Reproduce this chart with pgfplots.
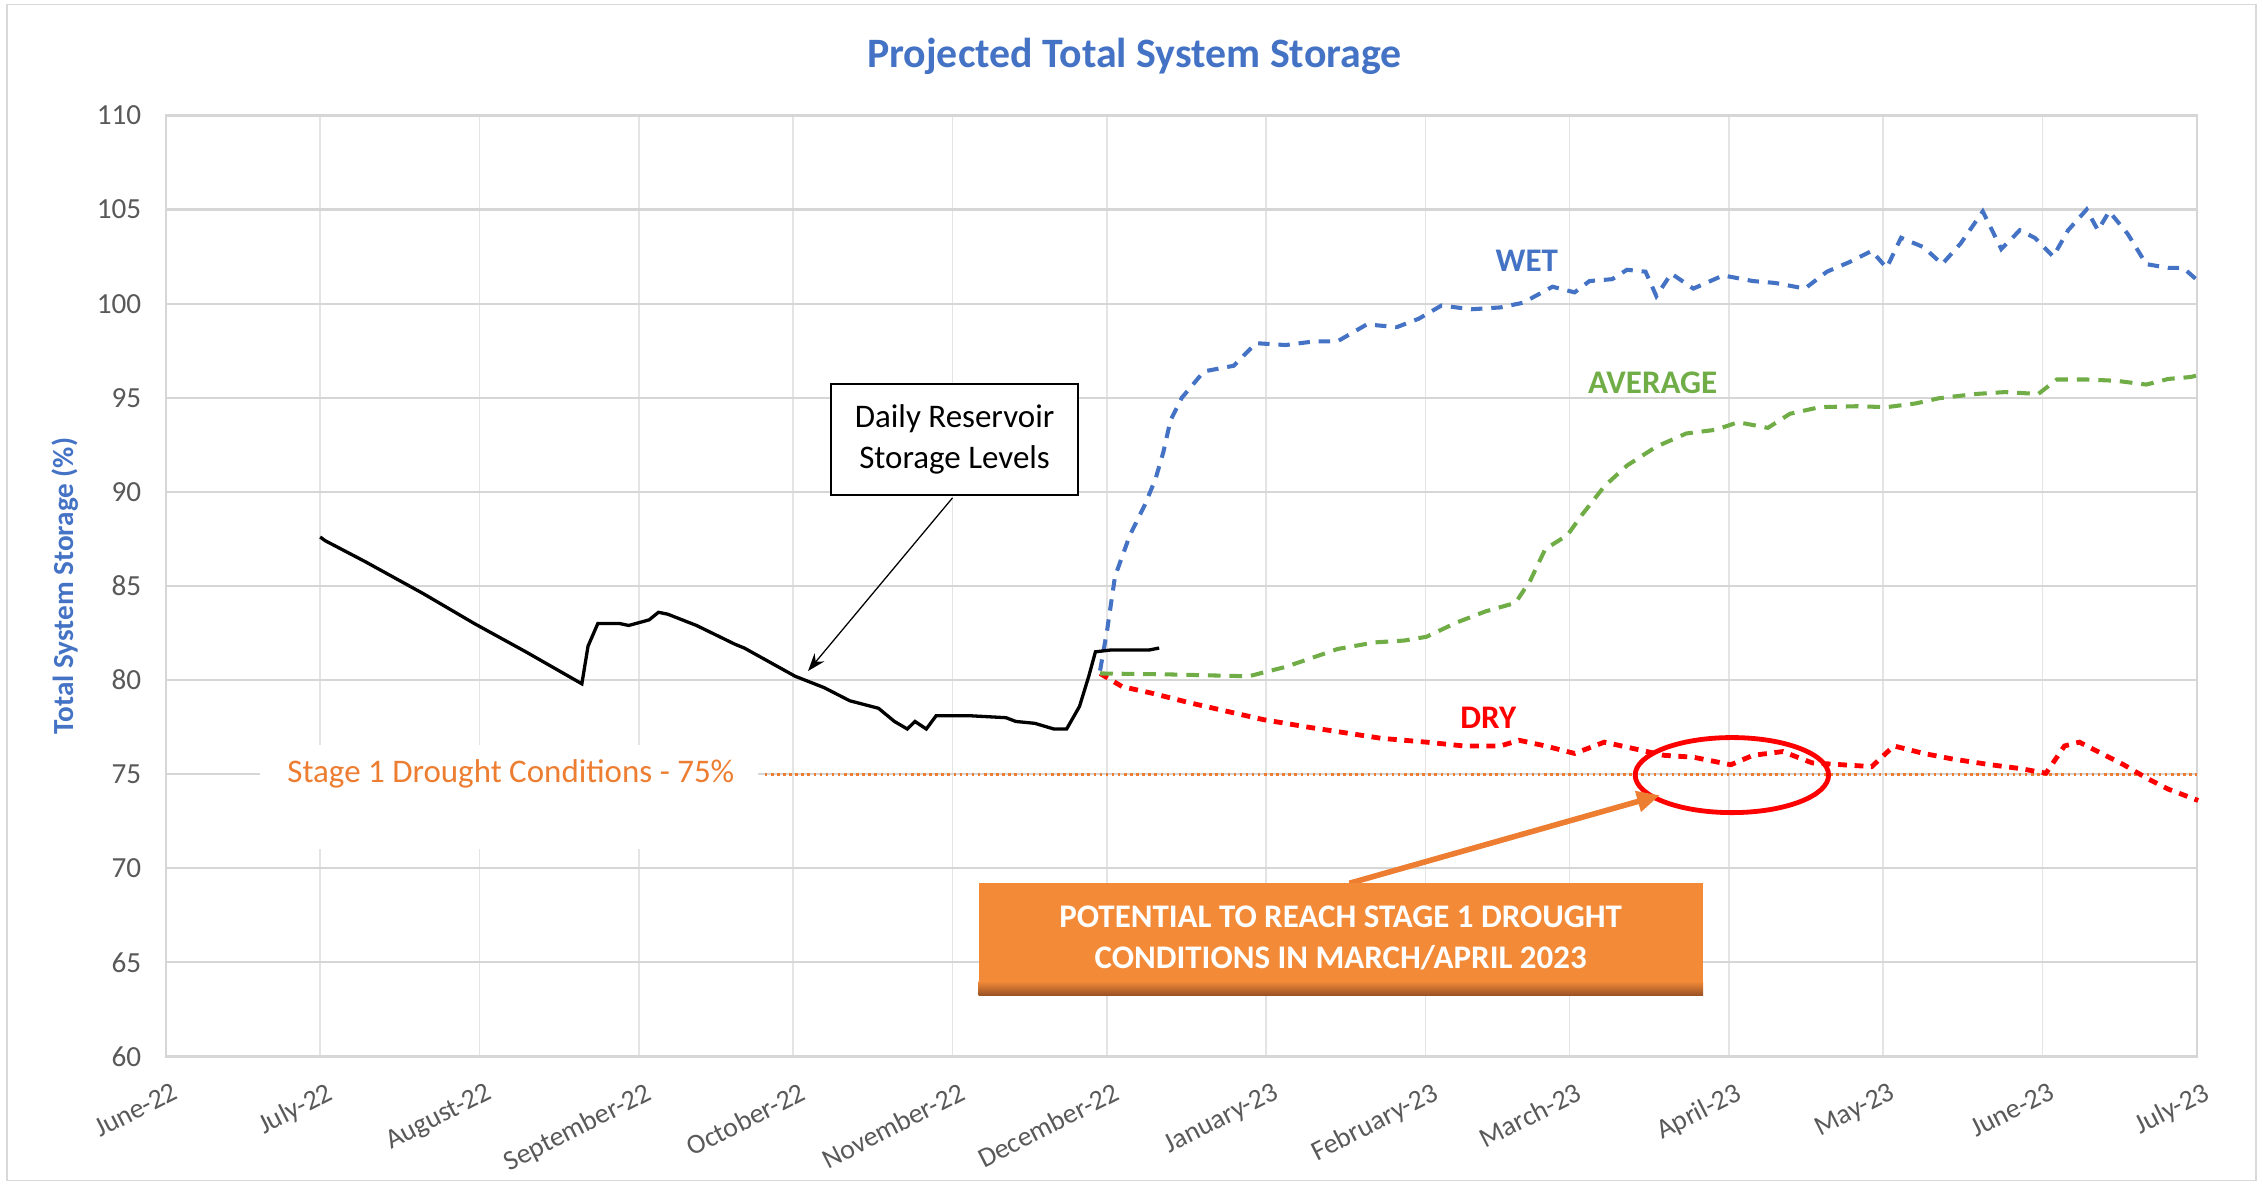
\documentclass[border=0pt]{standalone}
\usepackage{fontspec}
\setmainfont{Carlito}
\usepackage{pgfplots}
\pgfplotsset{compat=1.18}
\usetikzlibrary{arrows.meta}
\definecolor{xlblue}{HTML}{4472C4}
\definecolor{xlgreen}{HTML}{70AD47}
\definecolor{xlred}{HTML}{FF0000}
\definecolor{xlorange}{HTML}{ED7D31}
\definecolor{boxorange}{RGB}{243,138,56}
\definecolor{boxdark}{RGB}{150,80,35}
\definecolor{tickgray}{HTML}{595959}
\definecolor{hgrid}{RGB}{214,214,214}
\definecolor{vgrid}{RGB}{228,228,228}

\pgfplotstableread{
x y
30 87.6
31 87.4
38.7 86.3
50 84.6
60 83.0
70 81.5
80.9 79.8
82.1 81.8
84 83.0
88.3 83.0
90 82.9
92.7 83.1
94 83.2
95.8 83.6
97.6 83.5
103.2 82.9
110.7 81.9
112.5 81.7
122.4 80.2
128 79.6
133 78.9
138.6 78.5
141.7 77.8
144.2 77.4
145.7 77.8
147.9 77.4
149.8 78.1
156.6 78.1
163.4 78.0
165.3 77.8
169 77.7
172.7 77.4
175.2 77.4
177.7 78.6
179.5 80.2
180.8 81.5
183.9 81.6
188.8 81.6
191.3 81.6
193.2 81.7
}\daily

\pgfplotstableread{
x y
181.7 80.5
183.1 82.7
184.6 85.5
187.5 87.7
190.4 89.3
192.5 90.7
194 92.1
195.4 93.8
197.6 95.0
201.9 96.4
207.7 96.7
212 97.9
217.8 97.8
223.5 98.0
227.9 98.0
233.6 98.9
239.4 98.75
243.7 99.2
248.1 99.9
253.9 99.7
259.6 99.8
264 100.05
269.7 100.9
274 100.6
276.9 101.2
281.3 101.3
284.2 101.8
287.8 101.7
289.9 100.4
292.8 101.6
297.1 100.8
302.9 101.5
308.7 101.2
313 101.1
318.8 100.8
323.1 101.7
327.4 102.2
331.8 102.8
334.7 101.9
337.5 103.5
341.9 103.0
345.5 102.1
349.1 103.2
353.4 104.9
357 102.9
360.6 103.9
363.5 103.5
367.1 102.5
370 103.9
373.6 105.0
375.8 103.9
378 104.9
381.6 103.7
385.2 102.1
389.5 101.9
392.4 101.9
395.3 101.2
}\wet

\pgfplotstableread{
x y
181.7 80.35
195 80.3
210.6 80.2
217.8 80.7
222.1 81.1
227.9 81.65
235.1 82.0
240.9 82.1
245.2 82.3
251 83.05
256.7 83.65
262.5 84.1
265.4 85.3
268.3 86.96
272.6 87.7
275.5 88.8
279.8 90.3
284.2 91.4
289.9 92.4
295.7 93.1
301.5 93.3
305.8 93.7
311.6 93.4
315.9 94.15
321.7 94.5
328.9 94.55
334.7 94.5
340.4 94.7
344.8 94.97
352 95.2
357.7 95.3
364.2 95.2
367.8 95.97
373.6 95.97
379.4 95.9
385.2 95.7
389.5 96.0
393.8 96.1
395.3 96.2
}\avg

\pgfplotstableread{
x y
181.7 80.35
186 79.65
191.8 79.3
199 78.8
206.2 78.35
213.4 77.9
222.1 77.5
229.3 77.2
236.5 76.9
245.2 76.7
252.4 76.5
259.6 76.5
263.2 76.8
268.3 76.5
274 76.1
279.8 76.7
285.6 76.35
291.4 76.0
297.1 75.9
304.4 75.5
308.7 76.0
314.5 76.2
320.2 75.6
326 75.5
331.8 75.4
336.1 76.5
341.9 76.1
347.6 75.8
354.9 75.5
360.6 75.3
365.7 75.05
369.3 76.5
372.2 76.7
376.5 76.1
380.8 75.5
385.2 74.8
389.5 74.2
395.3 73.6
}\dry

\begin{document}
\begin{tikzpicture}
\begin{axis}[
  name=ax, at={(0,0)}, anchor=south west,
  scale only axis, width=28.14cm, height=13.04cm,
  xmin=0, xmax=395, ymin=60, ymax=110,
  xtick={0,30,61,92,122,153,183,214,245,273,304,334,365,395},
  xticklabels={June-22,July-22,August-22,September-22,October-22,November-22,December-22,January-23,February-23,March-23,April-23,May-23,June-23,July-23},
  ytick={60,65,...,110},
  xmajorgrids, ymajorgrids,
  x grid style={draw=vgrid, line width=0.6pt},
  y grid style={draw=hgrid, line width=0.9pt},
  axis line style={draw=hgrid, line width=0.9pt},
  major tick length=0pt,
  /pgf/number format/assume math mode=true,
  yticklabel style={font=\fontsize{11.5}{13}\selectfont, text=tickgray, anchor=east, xshift=-0.22cm},
  xticklabel style={font=\fontsize{11}{13}\selectfont, text=tickgray, rotate=27, anchor=north east, inner sep=1pt, yshift=-0.3cm, xshift=-0.05cm},
  clip=false,
]
% outer frame & bounding
\coordinate (BL) at (rel axis cs:-0.08173,-0.13804);
\coordinate (TR) at (rel axis cs:1.03269,1.12270);
\draw[gray!30, line width=0.6pt] (rel axis cs:-0.0782,-0.1319) rectangle (rel axis cs:1.0291,1.1181);

% title & ylabel
\node[font=\fontsize{16.5}{19}\selectfont\bfseries, text=xlblue] at (rel axis cs:0.4769,1.063) {Projected Total System Storage};
\node[font=\fontsize{11.5}{13}\selectfont\bfseries, text=xlblue, rotate=90] at (rel axis cs:-0.0498,0.5) {Total System Storage (\%)};

% white label box for drought text
\fill[white] (axis cs:18.2,71.04) rectangle (axis cs:115.1,76.56);
\node[font=\fontsize{13}{15}\selectfont, text=xlorange] at (axis cs:67.1,75) {Stage 1 Drought Conditions - 75\%};
\addplot[xlorange, line width=1.2pt, dash pattern=on 1pt off 1.4pt, forget plot] coordinates {(116.5,75) (395,75)};

% projections
\addplot[xlred, line width=1.9pt, dash pattern=on 3.5pt off 3pt] table[x=x,y=y] {\dry};
\addplot[xlgreen, line width=1.6pt, dash pattern=on 5pt off 3.5pt] table[x=x,y=y] {\avg};
\addplot[xlblue, line width=1.6pt, dash pattern=on 4.5pt off 3.5pt] table[x=x,y=y] {\wet};
% daily
\addplot[black, line width=1.3pt] table[x=x,y=y] {\daily};

% series labels
\node[font=\fontsize{13}{15}\selectfont\bfseries, text=xlblue] at (axis cs:264.7,102.25) {WET};
\node[font=\fontsize{13}{15}\selectfont\bfseries, text=xlgreen] at (axis cs:289.2,95.8) {AVERAGE};
\node[font=\fontsize{13}{15}\selectfont\bfseries, text=xlred] at (axis cs:257.2,78.0) {DRY};

% Daily callout
\node[draw=black, line width=0.7pt, fill=white, minimum width=3.42cm, minimum height=1.54cm, align=center, font=\fontsize{13}{16}\selectfont] at (axis cs:153.4,92.78) {Daily Reservoir\\Storage Levels};
\draw[black, line width=0.5pt, -{Stealth[length=7pt,width=5pt]}] (axis cs:153.0,89.68) -- (axis cs:124.9,80.48);

% ellipse
\draw[xlred, line width=1.9pt] (axis cs:304.6,74.95) ellipse [x radius=1.34cm, y radius=0.52cm];

% orange arrow
\draw[xlorange, line width=2.2pt, -{Triangle[length=9pt,width=8pt]}] (axis cs:230.2,69.2) -- (axis cs:290.6,73.88);

% orange box
\fill[boxorange] (axis cs:158.06,63.6) rectangle (axis cs:299.0,69.2);
\shade[top color=boxorange, bottom color=boxdark] (axis cs:158.06,63.22) rectangle (axis cs:299.0,64.0);
\node[font=\fontsize{13}{16}\selectfont\bfseries, text=white, align=center] at (axis cs:228.5,66.3) {POTENTIAL TO REACH STAGE 1 DROUGHT\\CONDITIONS IN MARCH/APRIL 2023};
\end{axis}
\pgfresetboundingbox
\useasboundingbox (BL) rectangle (TR);
\end{tikzpicture}
\end{document}
